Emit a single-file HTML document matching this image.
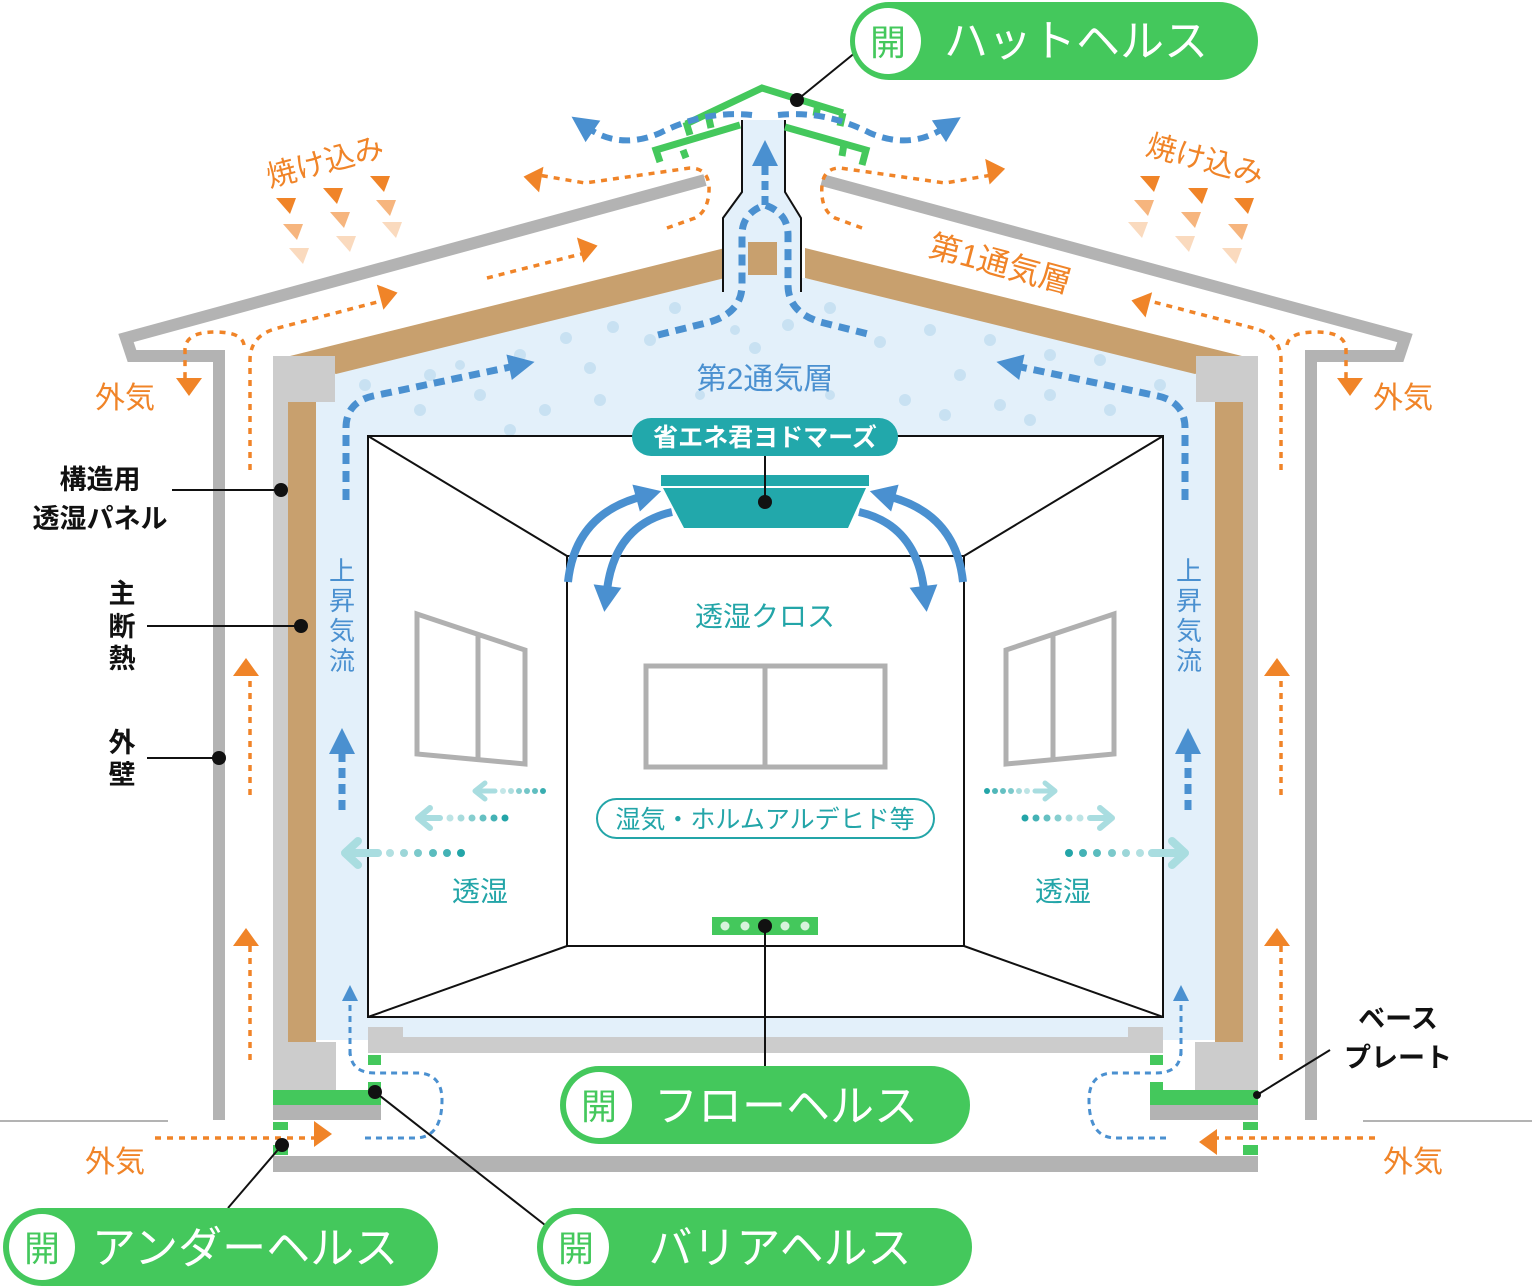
<!DOCTYPE html>
<html><head><meta charset="utf-8"><style>
html,body{margin:0;padding:0;background:#fff;}
svg{display:block;font-family:"Liberation Sans","Noto Sans CJK JP",sans-serif;}
</style></head><body>
<svg width="1532" height="1288" viewBox="0 0 1532 1288" xmlns="http://www.w3.org/2000/svg">
<defs>
<marker id="ao" markerWidth="8" markerHeight="8" refX="2" refY="4" orient="auto" markerUnits="userSpaceOnUse" viewBox="0 0 8 8" style="overflow:visible"><path d="M-2,-9 L16,4 L-2,17 Z" transform="translate(0,-4) scale(1)" fill="#f08428"/></marker>
<marker id="ab" markerWidth="8" markerHeight="8" refX="2" refY="0" orient="auto" markerUnits="userSpaceOnUse" style="overflow:visible"><path d="M-4,-13 L22,0 L-4,13 Z" fill="#4a90d0"/></marker>
<marker id="ab2" markerWidth="8" markerHeight="8" refX="2" refY="0" orient="auto" markerUnits="userSpaceOnUse" style="overflow:visible"><path d="M-4,-8 L12,0 L-4,8 Z" fill="#4a90d0"/></marker>
<marker id="ac" markerWidth="8" markerHeight="8" refX="0" refY="0" orient="auto" markerUnits="userSpaceOnUse" style="overflow:visible"><path d="M-4,-14 L22,0 L-4,14 Z" fill="#4a90d0"/></marker>
</defs>

<line x1="0" y1="1121" x2="168" y2="1121" stroke="#b3b3b3" stroke-width="2"/>
<line x1="1363" y1="1121" x2="1532" y2="1121" stroke="#b3b3b3" stroke-width="2"/>

<polyline points="705,180 126,338 132,356 219,356 219,1120" fill="none" stroke="#b3b3b3" stroke-width="12"/>
<polyline points="822,180 1405,338 1399,356 1311,356 1311,1120" fill="none" stroke="#b3b3b3" stroke-width="12"/>

<polygon points="316,400 336,372 725,278 805,278 1195,372 1215,400 1215,1040 316,1040" fill="#e3f0fa"/>
<polygon points="290,356 725,248 725,278 336,374" fill="#c8a06e"/>
<polygon points="805,248 1242,356 1195,374 805,278" fill="#c8a06e"/>
<rect x="273" y="356" width="15" height="735" fill="#cccccc"/>
<rect x="288" y="400" width="28" height="642" fill="#c8a06e"/>
<rect x="288" y="356" width="47" height="46" fill="#cccccc"/>
<rect x="288" y="1042" width="48" height="48" fill="#cccccc"/>
<rect x="1243" y="356" width="15" height="735" fill="#cccccc"/>
<rect x="1215" y="400" width="28" height="642" fill="#c8a06e"/>
<rect x="1196" y="356" width="47" height="46" fill="#cccccc"/>
<rect x="1195" y="1042" width="48" height="48" fill="#cccccc"/>

<g fill="#c8e1f2">
<circle cx="675" cy="308" r="6"/><circle cx="613" cy="327" r="6"/><circle cx="566" cy="338" r="6"/><circle cx="520" cy="355" r="6"/><circle cx="430" cy="375" r="6"/><circle cx="365" cy="385" r="6"/><circle cx="460" cy="365" r="5"/>
<circle cx="755" cy="348" r="6"/><circle cx="788" cy="325" r="6"/><circle cx="830" cy="308" r="6"/><circle cx="880" cy="342" r="6"/><circle cx="930" cy="330" r="6"/><circle cx="990" cy="340" r="6"/><circle cx="1050" cy="355" r="6"/><circle cx="1100" cy="360" r="6"/><circle cx="1160" cy="385" r="6"/>
<circle cx="590" cy="368" r="6"/><circle cx="650" cy="340" r="6"/><circle cx="545" cy="410" r="6"/><circle cx="480" cy="395" r="6"/><circle cx="420" cy="410" r="6"/><circle cx="510" cy="430" r="6"/><circle cx="600" cy="400" r="6"/>
<circle cx="905" cy="400" r="6"/><circle cx="960" cy="375" r="6"/><circle cx="1000" cy="405" r="6"/><circle cx="1050" cy="395" r="6"/><circle cx="1110" cy="410" r="6"/><circle cx="945" cy="415" r="6"/><circle cx="1030" cy="420" r="6"/>
<circle cx="700" cy="395" r="5"/><circle cx="830" cy="395" r="5"/><circle cx="735" cy="330" r="5"/>
</g>

<path d="M742,120 L742,192 L723,218 L723,292 L801,292 L801,218 L785,192 L785,120 Z" fill="#e3f0fa"/>
<path d="M742,120 L742,192 L723,218 L723,292 M785,120 L785,192 L801,218 L801,292" fill="none" stroke="#111" stroke-width="2"/>
<rect x="748" y="242" width="29" height="33" fill="#c8a06e"/>

<g fill="none" stroke="#44c85c" stroke-width="7">
<polyline points="686,124 762,88 843,113"/>
<polyline points="660,162 656,150 740,125"/>
<polyline points="785,127 866,150 862,165"/>
<path d="M686,122 L690,135 M708,114 L711,128 M818,104 L816,116 M843,113 L840,126 M683,150 L686,158 M844,144 L842,156"/>
</g>
<line x1="797" y1="100" x2="856" y2="52" stroke="#111" stroke-width="2"/>
<circle cx="797" cy="100" r="7" fill="#111"/>

<rect x="368" y="436" width="795" height="581" fill="#fff" stroke="#111" stroke-width="2"/>
<rect x="567" y="556" width="397" height="390" fill="none" stroke="#111" stroke-width="2"/>
<path d="M368,436 L567,556 M1163,436 L964,556 M368,1017 L567,946 M1163,1017 L964,946" stroke="#111" stroke-width="2"/>
<path d="M368,1027 L403,1027 L403,1037 L1128,1037 L1128,1027 L1163,1027 L1163,1053 L368,1053 Z" fill="#cccccc"/>
<rect x="273" y="1090" width="108" height="15" fill="#44c85c"/>
<rect x="273" y="1105" width="108" height="15" fill="#b3b3b3"/>
<rect x="1150" y="1090" width="108" height="15" fill="#44c85c"/>
<rect x="1150" y="1105" width="108" height="15" fill="#b3b3b3"/>
<rect x="273" y="1156" width="985" height="16" fill="#b3b3b3"/>
<rect x="368" y="1055" width="13" height="10" fill="#44c85c"/>
<rect x="368" y="1082" width="13" height="10" fill="#44c85c"/>
<rect x="1150" y="1055" width="13" height="10" fill="#44c85c"/>
<rect x="1150" y="1082" width="13" height="10" fill="#44c85c"/>
<rect x="273" y="1122" width="15" height="8" fill="#44c85c"/>
<rect x="273" y="1145" width="15" height="10" fill="#44c85c"/>
<rect x="1243" y="1122" width="15" height="8" fill="#44c85c"/>
<rect x="1243" y="1145" width="15" height="10" fill="#44c85c"/>

<g fill="none" stroke="#b0b0b0" stroke-width="5">
<polygon points="417,614 525,650 525,764 417,754"/><line x1="478" y1="633" x2="478" y2="760"/>
<rect x="646" y="666" width="239" height="101"/><line x1="765" y1="666" x2="765" y2="767"/>
<polygon points="1006,650 1114,614 1114,754 1006,764"/><line x1="1053" y1="633" x2="1053" y2="760"/>
</g>

<rect x="632" y="418" width="266" height="38" rx="19" fill="#22a8ab"/>
<text x="765" y="446" font-size="25" fill="#fff" text-anchor="middle" font-weight="bold">省エネ君ヨドマーズ</text>
<rect x="661" y="475" width="208" height="11" fill="#22a8ab"/>
<polygon points="663,488 866,488 848,528 684,528" fill="#22a8ab"/>
<line x1="765" y1="456" x2="765" y2="500" stroke="#111" stroke-width="2"/>
<circle cx="765" cy="502" r="7" fill="#111"/>
<g fill="none" stroke="#4a90d0" stroke-width="8">
<path d="M568,582 Q575,515 640,497" marker-end="url(#ac)"/>
<path d="M672,512 Q615,525 607,590" marker-end="url(#ac)"/>
<path d="M963,582 Q956,515 891,497" marker-end="url(#ac)"/>
<path d="M859,512 Q916,525 924,590" marker-end="url(#ac)"/>
</g>

<text x="765" y="626" font-size="28" fill="#23a5a8" text-anchor="middle">透湿クロス</text>
<rect x="597" y="799" width="337" height="39" rx="19.5" fill="#fff" stroke="#23a5a8" stroke-width="2"/>
<text x="765" y="828" font-size="25" fill="#23a5a8" text-anchor="middle">湿気・ホルムアルデヒド等</text>
<text x="480" y="901" font-size="28" fill="#23a5a8" text-anchor="middle">透湿</text>
<text x="1063" y="901" font-size="28" fill="#23a5a8" text-anchor="middle">透湿</text>

<g fill="#23a5a8">
<g opacity="0.9"><circle cx="543" cy="791" r="3"/><circle cx="535" cy="791" r="3" opacity=".8"/><circle cx="527" cy="791" r="3" opacity=".7"/><circle cx="519" cy="791" r="3" opacity=".6"/><circle cx="511" cy="791" r="3" opacity=".4"/><circle cx="503" cy="791" r="3" opacity=".3"/></g>
<circle cx="505" cy="818" r="3.5"/><circle cx="494" cy="818" r="3.5" opacity=".85"/><circle cx="483" cy="818" r="3.5" opacity=".7"/><circle cx="472" cy="818" r="3.5" opacity=".55"/><circle cx="461" cy="818" r="3.5" opacity=".4"/><circle cx="450" cy="818" r="3.5" opacity=".3"/>
<circle cx="461" cy="853" r="4"/><circle cx="447" cy="853" r="4" opacity=".85"/><circle cx="433" cy="853" r="4" opacity=".75"/><circle cx="418" cy="853" r="4" opacity=".6"/><circle cx="404" cy="853" r="4" opacity=".45"/><circle cx="390" cy="853" r="4" opacity=".35"/>
<circle cx="987" cy="791" r="3"/><circle cx="995" cy="791" r="3" opacity=".8"/><circle cx="1003" cy="791" r="3" opacity=".7"/><circle cx="1011" cy="791" r="3" opacity=".6"/><circle cx="1019" cy="791" r="3" opacity=".4"/><circle cx="1027" cy="791" r="3" opacity=".3"/>
<circle cx="1025" cy="818" r="3.5"/><circle cx="1036" cy="818" r="3.5" opacity=".85"/><circle cx="1047" cy="818" r="3.5" opacity=".7"/><circle cx="1058" cy="818" r="3.5" opacity=".55"/><circle cx="1069" cy="818" r="3.5" opacity=".4"/><circle cx="1080" cy="818" r="3.5" opacity=".3"/>
<circle cx="1069" cy="853" r="4"/><circle cx="1083" cy="853" r="4" opacity=".85"/><circle cx="1097" cy="853" r="4" opacity=".75"/><circle cx="1112" cy="853" r="4" opacity=".6"/><circle cx="1126" cy="853" r="4" opacity=".45"/><circle cx="1140" cy="853" r="4" opacity=".35"/>
</g>
<g fill="none" stroke="#a9dde0" stroke-linecap="round" stroke-linejoin="round">
<path d="M495,791 L475,791 M485,783 L475,791 L485,799" stroke-width="5"/>
<path d="M440,818 L418,818 M430,808 L418,818 L430,828" stroke-width="6"/>
<path d="M378,853 L345,853 M358,841 L345,853 L358,865" stroke-width="8"/>
<path d="M1035,791 L1055,791 M1045,783 L1055,791 L1045,799" stroke-width="5"/>
<path d="M1090,818 L1112,818 M1100,808 L1112,818 L1100,828" stroke-width="6"/>
<path d="M1152,853 L1185,853 M1172,841 L1185,853 L1172,865" stroke-width="8"/>
</g>

<rect x="712" y="917" width="106" height="18" fill="#44c85c"/>
<g fill="#d6f3dc"><circle cx="725" cy="926" r="4.5"/><circle cx="745" cy="926" r="4.5"/><circle cx="785" cy="926" r="4.5"/><circle cx="805" cy="926" r="4.5"/></g>
<line x1="765" y1="926" x2="765" y2="1066" stroke="#111" stroke-width="2"/>
<circle cx="765" cy="926" r="7" fill="#111"/>

<g fill="none" stroke="#4a90d0" stroke-width="7" stroke-dasharray="11 7">
<path d="M346,500 L346,428 Q346,400 378,395 L515,366" marker-end="url(#ab)"/>
<path d="M1185,500 L1185,428 Q1185,400 1153,395 L1016,366" marker-end="url(#ab)"/>
<path d="M342,810 L342,748" stroke-dasharray="10 6" marker-end="url(#ab)"/>
<path d="M1188,810 L1188,748" stroke-dasharray="10 6" marker-end="url(#ab)"/>
<path d="M765,205 L765,160" stroke-dasharray="9 6" marker-end="url(#ab)"/>
<path d="M658,335 L710,322 Q742,312 742,285 L742,235 Q742,213 765,205 Q788,213 788,235 L788,285 Q788,312 820,322 L872,335"/>
<path d="M752,115 Q705,110 660,133 Q620,150 588,128" stroke-width="6" marker-end="url(#ab)"/>
<path d="M778,115 Q825,110 870,133 Q910,150 944,128" stroke-width="6" marker-end="url(#ab)"/>
</g>
<g fill="none" stroke="#4a90d0" stroke-width="3" stroke-dasharray="6 5">
<path d="M350,1055 L350,995" marker-end="url(#ab2)"/>
<path d="M350,1050 Q350,1073 375,1073 L420,1073 Q442,1075 442,1100 Q442,1138 415,1138 L365,1138"/>
<path d="M1181,1055 L1181,995" marker-end="url(#ab2)"/>
<path d="M1181,1050 Q1181,1073 1156,1073 L1111,1073 Q1089,1075 1089,1100 Q1089,1138 1116,1138 L1166,1138"/>
</g>

<g fill="none" stroke="#f08428" stroke-width="3.5" stroke-dasharray="6 6">
<path d="M250,470 L250,360 Q250,335 278,328 L385,300" marker-end="url(#ao)"/>
<path d="M244,345 Q242,332 215,332 Q185,332 185,350 L185,382" marker-end="url(#ao)"/>
<path d="M1281,470 L1281,360 Q1281,335 1253,328 L1146,300" marker-end="url(#ao)"/>
<path d="M1287,345 Q1289,332 1316,332 Q1346,332 1346,350 L1346,382" marker-end="url(#ao)"/>
<path d="M487,278 L585,253" marker-end="url(#ao)"/>
<path d="M667,228 L695,218 Q710,210 709,185 Q707,168 690,168 L585,183 L538,175" marker-end="url(#ao)"/>
<path d="M862,228 L835,218 Q820,210 822,185 Q824,168 840,168 L945,183 L992,175" marker-end="url(#ao)"/>
<path d="M250,795 L250,672" marker-end="url(#ao)"/>
<path d="M250,1060 L250,942" marker-end="url(#ao)"/>
<path d="M1281,795 L1281,672" marker-end="url(#ao)"/>
<path d="M1281,1060 L1281,942" marker-end="url(#ao)"/>
<path d="M155,1138 L318,1138" marker-end="url(#ao)"/>
<path d="M1375,1138 L1213,1138" marker-end="url(#ao)"/>
</g>

<g fill="#f08428">
<polygon points="276,198 296,198 290,214"/><polygon points="323,188 343,188 337,204"/><polygon points="370,176 390,176 384,192"/>
<polygon points="283,224 303,224 297,240" opacity=".6"/><polygon points="330,212 350,212 344,228" opacity=".6"/><polygon points="376,200 396,200 390,216" opacity=".6"/>
<polygon points="289,248 309,248 303,264" opacity=".3"/><polygon points="336,236 356,236 350,252" opacity=".3"/><polygon points="382,222 402,222 396,238" opacity=".3"/>
<polygon points="1140,176 1160,176 1154,192"/><polygon points="1188,188 1208,188 1202,204"/><polygon points="1234,198 1254,198 1248,214"/>
<polygon points="1134,200 1154,200 1148,216" opacity=".6"/><polygon points="1181,212 1201,212 1195,228" opacity=".6"/><polygon points="1228,224 1248,224 1242,240" opacity=".6"/>
<polygon points="1128,222 1148,222 1142,238" opacity=".3"/><polygon points="1175,236 1195,236 1189,252" opacity=".3"/><polygon points="1222,248 1242,248 1236,264" opacity=".3"/>
</g>

<g fill="#f08428" font-size="30">
<text x="325" y="172" text-anchor="middle" transform="rotate(-15 325 162)">焼け込み</text>
<text x="1205" y="170" text-anchor="middle" transform="rotate(15 1205 160)">焼け込み</text>
<text x="1000" y="275" text-anchor="middle" font-size="32" transform="rotate(15 1000 265)">第1通気層</text>
<text x="125" y="408" text-anchor="middle">外気</text>
<text x="1403" y="408" text-anchor="middle">外気</text>
<text x="115" y="1172" text-anchor="middle">外気</text>
<text x="1413" y="1172" text-anchor="middle">外気</text>
</g>
<text x="765" y="389" font-size="30" fill="#4a90d0" text-anchor="middle">第2通気層</text>
<g fill="#4a90d0" font-size="26" text-anchor="middle">
<text x="342" y="580">上</text><text x="342" y="610">昇</text><text x="342" y="640">気</text><text x="342" y="670">流</text>
<text x="1189" y="580">上</text><text x="1189" y="610">昇</text><text x="1189" y="640">気</text><text x="1189" y="670">流</text>
</g>

<g fill="#111" font-size="27" font-weight="bold">
<text x="100" y="489" text-anchor="middle">構造用</text>
<text x="100" y="528" text-anchor="middle">透湿パネル</text>
<text x="122" y="603" text-anchor="middle">主</text><text x="122" y="636" text-anchor="middle">断</text><text x="122" y="668" text-anchor="middle">熱</text>
<text x="122" y="752" text-anchor="middle">外</text><text x="122" y="784" text-anchor="middle">壁</text>
<text x="1398" y="1028" text-anchor="middle">ベース</text>
<text x="1398" y="1067" text-anchor="middle">プレート</text>
</g>
<g stroke="#111" stroke-width="2">
<line x1="172" y1="490" x2="281" y2="490"/><line x1="147" y1="626" x2="301" y2="626"/><line x1="147" y1="758" x2="219" y2="758"/>
<line x1="1257" y1="1095" x2="1330" y2="1050"/>
<line x1="282" y1="1145" x2="228" y2="1208"/>
<line x1="375" y1="1092" x2="545" y2="1225"/>
</g>
<circle cx="281" cy="490" r="7" fill="#111"/><circle cx="301" cy="626" r="7" fill="#111"/><circle cx="219" cy="758" r="7" fill="#111"/>
<circle cx="1257" cy="1095" r="4" fill="#111"/><circle cx="282" cy="1145" r="7" fill="#111"/><circle cx="375" cy="1092" r="7" fill="#111"/>

<g>
<rect x="850" y="2" width="408" height="78" rx="39" fill="#44c85c"/>
<circle cx="888" cy="41" r="33" fill="#fff"/>
<text x="888" y="55" font-size="36" fill="#44c85c" text-anchor="middle">開</text>
<text x="1076" y="56" font-size="44" fill="#fff" text-anchor="middle">ハットヘルス</text>

<rect x="560" y="1066" width="410" height="78" rx="39" fill="#44c85c"/>
<circle cx="599" cy="1105" r="33" fill="#fff"/>
<text x="599" y="1119" font-size="36" fill="#44c85c" text-anchor="middle">開</text>
<text x="786" y="1121" font-size="44" fill="#fff" text-anchor="middle">フローヘルス</text>

<rect x="3" y="1208" width="435" height="78" rx="39" fill="#44c85c"/>
<circle cx="42" cy="1247" r="33" fill="#fff"/>
<text x="42" y="1261" font-size="36" fill="#44c85c" text-anchor="middle">開</text>
<text x="245" y="1263" font-size="44" fill="#fff" text-anchor="middle">アンダーヘルス</text>

<rect x="537" y="1208" width="435" height="78" rx="39" fill="#44c85c"/>
<circle cx="576" cy="1247" r="33" fill="#fff"/>
<text x="576" y="1261" font-size="36" fill="#44c85c" text-anchor="middle">開</text>
<text x="780" y="1263" font-size="44" fill="#fff" text-anchor="middle">バリアヘルス</text>
</g>
</svg>
</body></html>
